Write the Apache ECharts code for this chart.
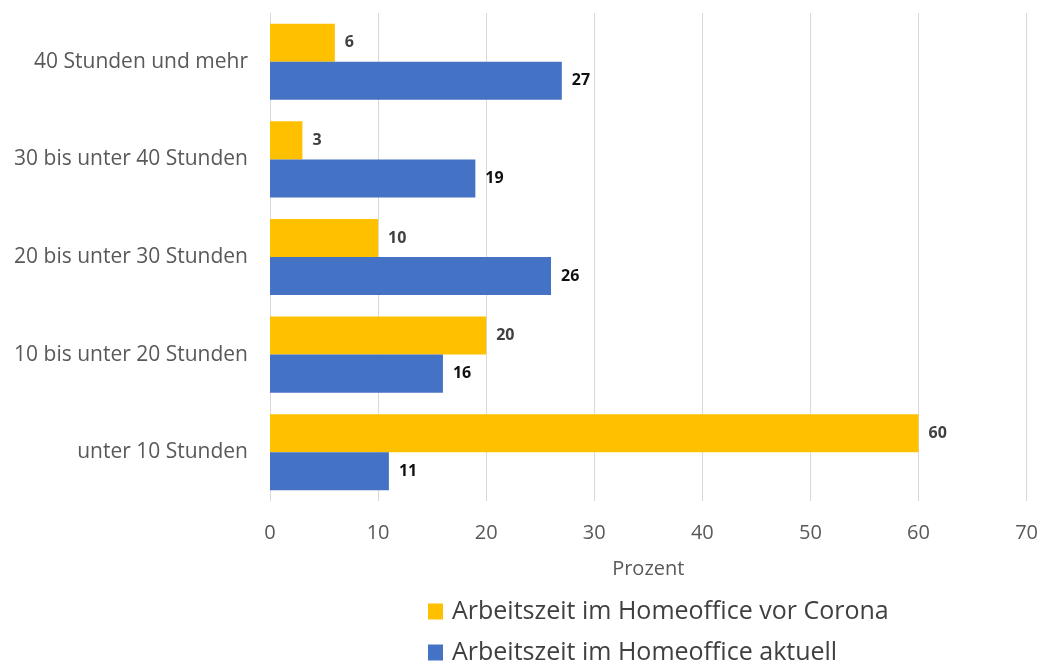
<!DOCTYPE html>
<html>
<head>
<meta charset="utf-8">
<script src="https://cdn.jsdelivr.net/npm/echarts@6/dist/echarts.min.js"></script>
<style>
html,body{margin:0;padding:0;background:#fff;}
#c{width:1041px;height:666px;}
</style>
</head>
<body>
<div id="c"></div>
<script>
const categories = ["unter 10 Stunden", "10 bis unter 20 Stunden", "20 bis unter 30 Stunden", "30 bis unter 40 Stunden", "40 Stunden und mehr"];
const vorCorona = [60, 20, 10, 3, 6];
const aktuell = [11, 16, 26, 19, 27];
const seriesNames = ["Arbeitszeit im Homeoffice vor Corona", "Arbeitszeit im Homeoffice aktuell"];
const xTicks = [0, 10, 20, 30, 40, 50, 60, 70];

const font = "'Open Sans', 'Noto Sans', sans-serif";
const chart = echarts.init(document.getElementById('c'), null, {renderer: 'canvas'});
chart.setOption({
  animation: false,
  textStyle: {fontFamily: font},
  grid: {left: 270, right: 12, top: 13, bottom: 165, containLabel: false},
  xAxis: {
    type: 'value', min: xTicks[0], max: xTicks[xTicks.length - 1], interval: 10,
    name: 'Prozent', nameLocation: 'middle', nameGap: 58,
    nameTextStyle: {color: '#595959', fontSize: 20, fontFamily: font},
    axisLine: {show: false}, axisTick: {show: false},
    axisLabel: {color: '#595959', fontSize: 20, margin: 22, fontFamily: font},
    splitLine: {show: true, lineStyle: {color: '#d9d9d9', width: 1}}
  },
  yAxis: {
    type: 'category', data: categories,
    axisLine: {show: true, lineStyle: {color: '#d9d9d9', width: 1}},
    axisTick: {show: false},
    axisLabel: {color: '#595959', fontSize: 21, margin: 22, fontFamily: font}
  },
  legend: {
    orient: 'vertical', left: 428, top: 599, padding: 0, itemGap: 16,
    itemWidth: 15, itemHeight: 16, icon: 'rect',
    textStyle: {color: '#404040', fontSize: 25, fontFamily: font, padding: [0,0,0,4]},
    data: seriesNames
  },
  series: [
    {
      name: seriesNames[0], type: 'bar', data: vorCorona,
      itemStyle: {color: '#FFC000'}, barGap: '0%', barCategoryGap: '22%',
      label: {show: true, position: 'right', distance: 10, color: '#404040', fontWeight: 'bold', fontSize: 16, fontFamily: font}
    },
    {
      name: seriesNames[1], type: 'bar', data: aktuell,
      itemStyle: {color: '#4472C4'}, barGap: '0%', barCategoryGap: '22%',
      label: {show: true, position: 'right', distance: 10, color: '#111', fontWeight: 'bold', fontSize: 16, fontFamily: font}
    }
  ]
});
</script>
</body>
</html>
